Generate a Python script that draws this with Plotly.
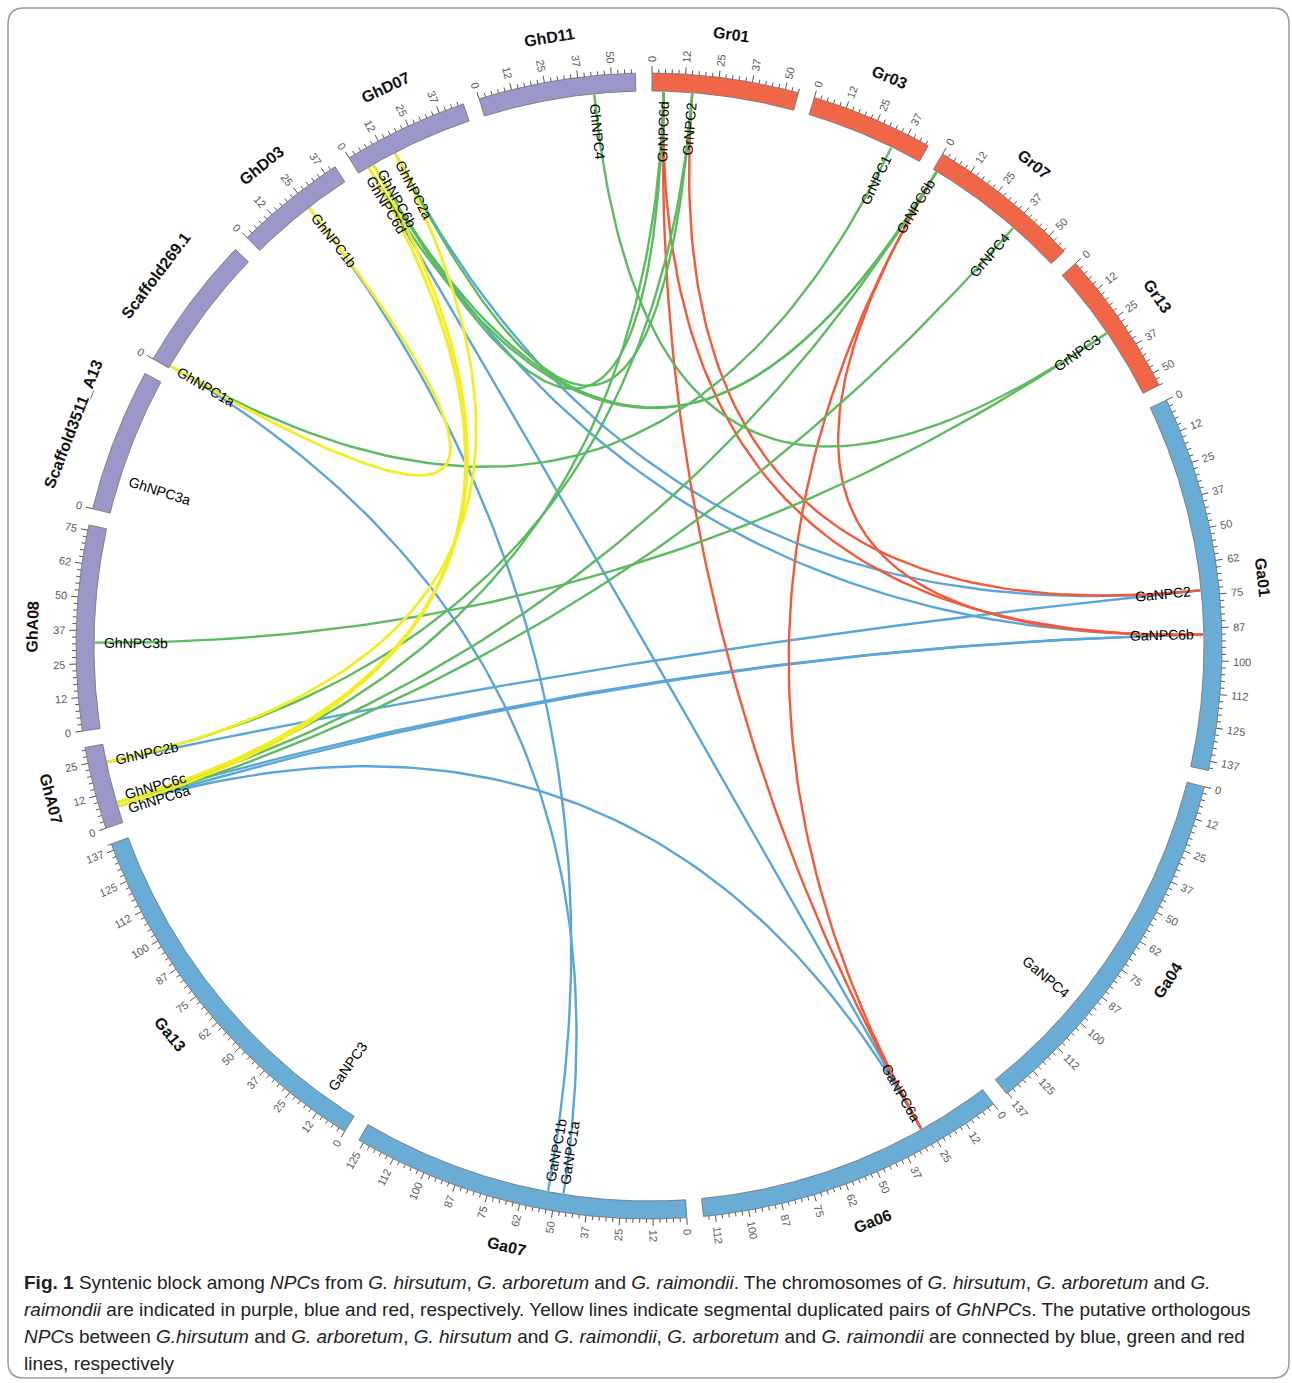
import math
import plotly.graph_objects as go

# ---------------- chromosomes, clockwise from 12 o'clock ----------------
chrom_names = ["Gr01", "Gr03", "Gr07", "Gr13",
               "Ga01", "Ga04", "Ga06", "Ga07", "Ga13",
               "GhA07", "GhA08", "Scaffold3511_A13", "Scaffold269.1",
               "GhD03", "GhD07", "GhD11"]
chrom_lengths_mb = [55, 46, 58, 55, 141, 138, 117, 127, 140, 31, 77, 54, 51, 42, 47, 59]
chrom_species = ["Gr", "Gr", "Gr", "Gr", "Ga", "Ga", "Ga", "Ga", "Ga",
                 "Gh", "Gh", "Gh", "Gh", "Gh", "Gh", "Gh"]
chrom_has_scale = [True, True, True, True, True, True, True, True, True,
                   True, True, False, False, True, True, True]

# ---------------- NPC genes ----------------
gene_names = ["GrNPC6d", "GrNPC2", "GrNPC1", "GrNPC6b", "GrNPC4", "GrNPC3",
              "GaNPC2", "GaNPC6b", "GaNPC4", "GaNPC6a", "GaNPC1a", "GaNPC1b", "GaNPC3",
              "GhNPC6a", "GhNPC6c", "GhNPC2b", "GhNPC3b", "GhNPC3a", "GhNPC1a", "GhNPC1b",
              "GhNPC6d", "GhNPC6b", "GhNPC2a", "GhNPC4"]
gene_chroms = ["Gr01", "Gr01", "Gr03", "Gr07", "Gr07", "Gr13",
               "Ga01", "Ga01", "Ga04", "Ga06", "Ga07", "Ga07", "Ga13",
               "GhA07", "GhA07", "GhA07", "GhA08", "Scaffold3511_A13", "Scaffold269.1", "GhD03",
               "GhD07", "GhD07", "GhD07", "GhD11"]
gene_mb = [4.5, 15.5, 34, 1.5, 38, 28,
           73, 90, 95, 28, 47, 53, 13,
           6.5, 8, 24, 33, 14, 1, 25,
           4.5, 6.5, 16, 43]

# ---------------- syntenic links ----------------
# dup = segmental duplication within G. hirsutum; others are orthologous pairs
link_from = ["GhNPC1a", "GhNPC2a", "GhNPC6b", "GhNPC6d", "GhNPC6d",
             "GhNPC1a", "GhNPC3b", "GhNPC4", "GhNPC6b", "GhNPC2a", "GhNPC6b", "GhNPC6d",
             "GhNPC6c", "GhNPC2b", "GhNPC6c", "GhNPC6a",
             "GhNPC1a", "GhNPC1b", "GhNPC2a", "GhNPC6b", "GhNPC6d", "GhNPC2b",
             "GhNPC6c", "GhNPC6a", "GhNPC6a",
             "GrNPC2", "GrNPC6d", "GrNPC6d", "GrNPC6b", "GrNPC6b"]
link_to = ["GhNPC1b", "GhNPC2b", "GhNPC6c", "GhNPC6a", "GhNPC6c",
           "GrNPC1", "GrNPC3", "GrNPC3", "GrNPC6d", "GrNPC2", "GrNPC6b", "GrNPC6b",
           "GrNPC6d", "GrNPC2", "GrNPC6b", "GrNPC4",
           "GaNPC1a", "GaNPC1b", "GaNPC2", "GaNPC6b", "GaNPC6a", "GaNPC2",
           "GaNPC6b", "GaNPC6b", "GaNPC6a",
           "GaNPC2", "GaNPC6b", "GaNPC6a", "GaNPC6a", "GaNPC6b"]
link_kind = ["dup"] * 5 + ["Gh-Gr"] * 11 + ["Gh-Ga"] * 9 + ["Ga-Gr"] * 5

caption_lines = [
    "<b>Fig. 1</b> Syntenic block among <i>NPC</i>s from <i>G. hirsutum</i>, <i>G. arboretum</i> and "
    "<i>G. raimondii</i>. The chromosomes of <i>G. hirsutum</i>, <i>G. arboretum</i> and <i>G.</i>",
    "<i>raimondii</i> are indicated in purple, blue and red, respectively. Yellow lines indicate "
    "segmental duplicated pairs of <i>GhNPC</i>s. The putative orthologous",
    "<i>NPC</i>s between <i>G.hirsutum</i> and <i>G. arboretum</i>, <i>G. hirsutum</i> and "
    "<i>G. raimondii</i>, <i>G. arboretum</i> and <i>G. raimondii</i> are connected by blue, green and red",
    "lines, respectively",
]

# ---------------- styling ----------------
W, H = 1292, 1383
CX, CY = 649, 646
R_IN, R_OUT = 555, 573
START_DEG = 0.3
GAP_DEG = 1.66
BAR_COLOR = {"Gh": "#9b97c8", "Ga": "#69acd6", "Gr": "#f26648"}
LINK_COLOR = {"dup": "#f2ee22", "Gh-Gr": "#5cbb60", "Gh-Ga": "#5aa6d8", "Ga-Gr": "#f25a3a"}
LINK_WIDTH = {"dup": 2.8, "Gh-Gr": 2.4, "Gh-Ga": 2.4, "Ga-Gr": 2.4}
FONT = "Liberation Sans, Arial, sans-serif"

deg_per_mb = (360 - GAP_DEG * len(chrom_names)) / sum(chrom_lengths_mb)
chrom_start = {}
acc = START_DEG
for name, length in zip(chrom_names, chrom_lengths_mb):
    chrom_start[name] = acc
    acc += length * deg_per_mb + GAP_DEG


def theta_of(chrom, mb):
    return chrom_start[chrom] + mb * deg_per_mb


def polar(r, theta):
    a = math.radians(theta)
    return CX + r * math.sin(a), CY - r * math.cos(a)


CHAR_W = {"i": 0.22, "l": 0.22, "f": 0.28, "t": 0.28, "r": 0.33, ".": 0.28, "_": 0.56,
          "M": 0.83, "N": 0.72, "C": 0.72, "G": 0.78, "D": 0.72, "A": 0.67, "P": 0.67, "S": 0.67}


def text_width(s, size):
    w = 0
    for ch in s:
        if ch in CHAR_W:
            w += CHAR_W[ch]
        elif ch.isupper():
            w += 0.67
        else:
            w += 0.556
    return w * size


def radial_textangle(theta):
    t = theta % 360
    return t - 90 if t < 180 else t - 270


def tangent_textangle(theta):
    t = theta % 360
    if 90 < t < 270:
        return t - 180
    return t if t <= 90 else t - 360


fig = go.Figure()
annotations = []

# ---------------- chromosome bars ----------------
for name, length, sp in zip(chrom_names, chrom_lengths_mb, chrom_species):
    t0 = chrom_start[name]
    t1 = t0 + length * deg_per_mb
    n = max(8, int((t1 - t0) * 3))
    ts = [t0 + (t1 - t0) * k / n for k in range(n + 1)]
    outer = [polar(R_OUT, t) for t in ts]
    inner = [polar(R_IN, t) for t in reversed(ts)]
    pts = outer + inner + [outer[0]]
    fig.add_trace(go.Scatter(
        x=[p[0] for p in pts], y=[p[1] for p in pts], mode="lines",
        fill="toself", fillcolor=BAR_COLOR[sp],
        line=dict(color="#6e6e6e", width=0.8), hoverinfo="skip", showlegend=False))

    # chromosome name
    tm = (t0 + t1) / 2
    lx, ly = polar(617, tm)
    annotations.append(dict(x=lx, y=ly, text="<b>" + name + "</b>", showarrow=False,
                            xanchor="center", yanchor="middle",
                            textangle=tangent_textangle(tm),
                            font=dict(family=FONT, size=16, color="#111111")))

# ---------------- scale ticks ----------------
tick_x, tick_y = [], []
for name, length, has_scale in zip(chrom_names, chrom_lengths_mb, chrom_has_scale):
    steps = int(length / 2.5 + 1e-9) if has_scale else 0
    for k in range(steps + 1):
        mb = k * 2.5
        t = theta_of(name, mb)
        major = (k % 5 == 0)
        a = polar(R_OUT, t)
        b = polar(R_OUT + (7 if major else 4), t)
        tick_x += [a[0], b[0], None]
        tick_y += [a[1], b[1], None]
        if major:
            lab = str(int(mb))
            fs = 11
            rc = R_OUT + 11 + text_width(lab, fs) / 2
            px, py = polar(rc, t)
            annotations.append(dict(x=px, y=py, text=lab, showarrow=False, xanchor="center",
                                    yanchor="middle", textangle=radial_textangle(t),
                                    font=dict(family=FONT, size=fs, color="#5a5a5a")))
fig.add_trace(go.Scatter(x=tick_x, y=tick_y, mode="lines", line=dict(color="#555555", width=1),
                         hoverinfo="skip", showlegend=False))

# ---------------- links (quadratic Bezier through the centre) ----------------
gene_theta = {g: theta_of(c, m) for g, c, m in zip(gene_names, gene_chroms, gene_mb)}
for kind in ["Gh-Ga", "Ga-Gr", "Gh-Gr", "dup"]:
    for a, b, k in zip(link_from, link_to, link_kind):
        if k != kind:
            continue
        p0 = polar(R_IN - 1, gene_theta[a])
        p2 = polar(R_IN - 1, gene_theta[b])
        xs, ys = [], []
        for i in range(81):
            t = i / 80
            u = 1 - t
            xs.append(u * u * p0[0] + 2 * u * t * CX + t * t * p2[0])
            ys.append(u * u * p0[1] + 2 * u * t * CY + t * t * p2[1])
        fig.add_trace(go.Scatter(x=xs, y=ys, mode="lines",
                                 line=dict(color=LINK_COLOR[kind], width=LINK_WIDTH[kind]),
                                 hoverinfo="skip", showlegend=False))

# ---------------- gene labels (spread apart where crowded) ----------------
MIN_SEP = 1.45
label_theta = dict(gene_theta)
for chrom in chrom_names:
    members = sorted([g for g, c in zip(gene_names, gene_chroms) if c == chrom], key=lambda g: label_theta[g])
    for _ in range(60):
        moved = False
        for i in range(1, len(members)):
            g0, g1 = members[i - 1], members[i]
            d = label_theta[g1] - label_theta[g0]
            if d < MIN_SEP:
                push = (MIN_SEP - d) / 2
                label_theta[g0] -= push
                label_theta[g1] += push
                moved = True
        if not moved:
            break

for g in gene_names:
    t = label_theta[g]
    fs = 14
    rc = R_IN - 10 - text_width(g, fs) / 2
    px, py = polar(rc, t)
    annotations.append(dict(x=px, y=py, text=g, showarrow=False, xanchor="center", yanchor="middle",
                            textangle=radial_textangle(t),
                            font=dict(family=FONT, size=fs, color="#000000")))

# ---------------- caption, one annotation per line ----------------
CAPTION_TOP = 1282
CAPTION_STEP = 27
for i, line in enumerate(caption_lines):
    annotations.append(dict(x=22, y=CAPTION_TOP + i * CAPTION_STEP, text=line,
                            showarrow=False, xanchor="left", yanchor="middle", align="left",
                            font=dict(family=FONT, size=19, color="#222222")))

# rounded frame around the figure panel
x0, y0, x1, y1, rr = 8, 8, 1289, 1378, 16
frame_path = (f"M {x0 + rr},{y0} L {x1 - rr},{y0} Q {x1},{y0} {x1},{y0 + rr} "
              f"L {x1},{y1 - rr} Q {x1},{y1} {x1 - rr},{y1} L {x0 + rr},{y1} "
              f"Q {x0},{y1} {x0},{y1 - rr} L {x0},{y0 + rr} Q {x0},{y0} {x0 + rr},{y0} Z")

fig.update_layout(
    width=W, height=H, margin=dict(l=0, r=0, t=0, b=0),
    paper_bgcolor="white", plot_bgcolor="white", showlegend=False,
    xaxis=dict(range=[0, W], visible=False, fixedrange=True),
    yaxis=dict(range=[H, 0], visible=False, fixedrange=True),
    annotations=annotations,
    shapes=[dict(type="path", path=frame_path, xref="x", yref="y",
                 line=dict(color="#9a9a9a", width=1.5), layer="below")],
)

fig.write_html("out.html", config={"displayModeBar": False})
